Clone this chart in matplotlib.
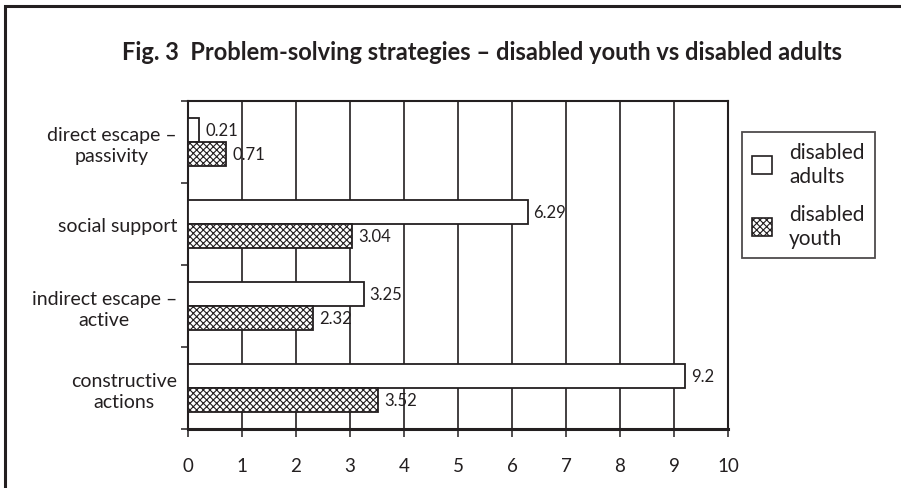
import matplotlib.pyplot as plt
import numpy as np
from matplotlib.patches import Rectangle, Patch

plt.rcParams['font.family'] = ['Lato', 'DejaVu Sans']
plt.rcParams['hatch.linewidth'] = 0.8
INK = '#231f20'
plt.rcParams['hatch.color'] = INK

categories = ['direct escape –\npassivity', 'social support',
              'indirect escape –\nactive', 'constructive\nactions']
adults = [0.21, 6.29, 3.25, 9.2]
youth = [0.71, 3.04, 2.32, 3.52]
adults_lbl = ['0.21', '6.29', '3.25', '9.2']
youth_lbl = ['0.71', '3.04', '2.32', '3.52']
xticks = list(range(0, 11))

fig = plt.figure(figsize=(9.01, 4.89), dpi=100)
# page frame around the figure
fig.patches.append(Rectangle((5 / 901, -0.1), 1.2, 1 - 7 / 489 + 0.1,
                             transform=fig.transFigure, fill=False,
                             edgecolor=INK, linewidth=2.2))

ax = fig.add_axes([188 / 901, 59 / 489, 540 / 901, 328 / 489])
y = np.arange(len(categories))
h = 0.29
ax.barh(y - h / 2, adults, height=h, color='white', edgecolor=INK, linewidth=1.3, zorder=3)
ax.barh(y + h / 2, youth, height=h, color='white', edgecolor=INK, linewidth=1.3,
        hatch='xxxxx', zorder=3)

for yi, v, s in zip(y, adults, adults_lbl):
    ax.text(v + 0.11, yi - h / 2, s, va='center', ha='left', fontsize=12, color=INK, zorder=4)
for yi, v, s in zip(y, youth, youth_lbl):
    ax.text(v + 0.11, yi + h / 2, s, va='center', ha='left', fontsize=12, color=INK, zorder=4)

ax.set_xlim(0, 10)
ax.set_ylim(len(categories) - 0.5, -0.5)
ax.set_xticks(xticks)
ax.set_xticklabels([str(t) for t in xticks], fontsize=13.5, color=INK)
ax.set_yticks(y)
ax.set_yticklabels(categories, fontsize=14, color=INK, multialignment='center',
                   linespacing=1.25)
ax.set_yticks(np.arange(-0.5, len(categories)), minor=True)
ax.tick_params(axis='y', which='major', length=0, pad=8)
ax.tick_params(axis='y', which='minor', length=5, width=1.1, color=INK)
ax.tick_params(axis='x', length=6, width=1.1, color=INK, pad=14)
ax.grid(axis='x', color=INK, linewidth=1.2, zorder=1)
for side in ['left', 'right', 'top']:
    ax.spines[side].set_linewidth(1.5)
    ax.spines[side].set_color(INK)
ax.spines['bottom'].set_linewidth(2.2)
ax.spines['bottom'].set_color(INK)

fig.text(482 / 901, 1 - 53 / 489, 'Fig. 3  Problem-solving strategies – disabled youth vs disabled adults',
         ha='center', va='center', fontsize=17, fontweight='bold', color=INK)

handles = [Patch(facecolor='white', edgecolor=INK, linewidth=1.2),
           Patch(facecolor='white', edgecolor=INK, linewidth=1.2, hatch='xxxxx')]
leg = fig.legend(handles, ['disabled\nadults', 'disabled\nyouth'],
                 loc='upper left', bbox_to_anchor=(742 / 901, 1 - 133 / 489),
                 borderaxespad=0, fontsize=15, frameon=True, fancybox=False,
                 handlelength=0.95, handleheight=0.95, labelspacing=0.9,
                 borderpad=0.5, handletextpad=0.8)
leg.get_frame().set_edgecolor(INK)
leg.get_frame().set_linewidth(1.3)
for t in leg.get_texts():
    t.set_color(INK)

fig.savefig('out.png', dpi=100)
